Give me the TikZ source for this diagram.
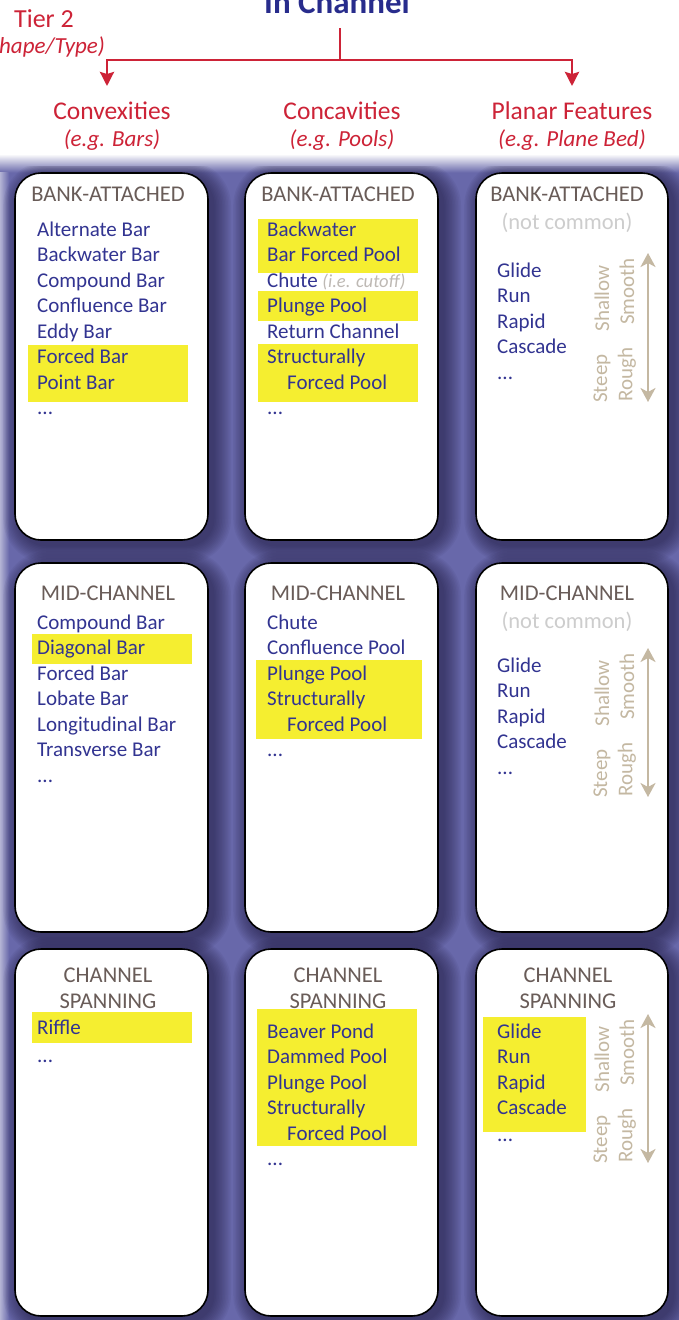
\documentclass[tikz,border=0pt]{standalone}
\usepackage{fontspec}
\setmainfont{Carlito}
\usetikzlibrary{arrows.meta}

\definecolor{bgc}{RGB}{104,104,170}
\definecolor{shadowc}{RGB}{28,22,58}
\definecolor{itemc}{RGB}{50,52,145}
\definecolor{hdrc}{RGB}{105,92,88}
\definecolor{hlc}{RGB}{245,238,48}
\definecolor{redc}{RGB}{205,35,55}
\definecolor{tanc}{RGB}{196,184,162}
\definecolor{ncmc}{RGB}{205,205,205}
\definecolor{cutc}{RGB}{190,185,180}
\definecolor{titlec}{RGB}{40,44,140}

\begin{document}
\begin{tikzpicture}[x=1pt,y=-1pt,
  card/.style={rectangle, draw=black, line width=1.6pt, fill=white,
    rounded corners=26pt, inner sep=0pt, minimum width=193pt},
  itm/.style={anchor=base west, inner sep=0pt, text=itemc,
    font=\fontsize{21}{25}\selectfont},
  hdr/.style={anchor=base, inner sep=0pt, text=hdrc,
    font=\fontsize{22.5}{26}\selectfont},
  ncm/.style={anchor=base, inner sep=0pt, text=ncmc,
    font=\fontsize{22.5}{26}\selectfont},
  rot/.style={rotate=90, inner sep=0pt, text=tanc,
    font=\fontsize{21}{25}\selectfont},
  colh/.style={anchor=base, inner sep=0pt, text=redc,
    font=\fontsize{25.5}{30}\selectfont},
  colsub/.style={anchor=base, inner sep=0pt, text=redc,
    font=\fontsize{23}{27}\selectfont\itshape},
  hl/.style={fill=hlc},
  redline/.style={draw=redc, line width=2.6pt},
  redtip/.style={-{Stealth[length=14pt,width=14pt,inset=2pt]}},
  tanarrow/.style={draw=tanc, line width=2.2pt,
    {Stealth[length=14pt,width=15pt,inset=4pt]}-{Stealth[length=14pt,width=15pt,inset=4pt]}}
]
\useasboundingbox (0,0) rectangle (679,1320);

% page background and the blue panel behind the cards
\fill[white] (0,0) rectangle (679,1320);
\fill[bgc] (0,172) rectangle (679,1320);
\shade[top color=white, bottom color=bgc] (0,154) rectangle (679,172.5);
\shade[left color=bgc!50!white, right color=bgc] (0,172) rectangle (9,1320);

% soft shadows under the cards, kept inside the blue panel
\begin{scope}
\clip (0,166) rectangle (679,1320);
\foreach \xa/\xb in {15/208,245/438,476/668}{
  \foreach \ya/\yb in {173/540,563/932,949/1316}{
    \foreach \k in {1,...,12}{
      \pgfmathsetmacro\rr{26+1.5*\k}
      \fill[shadowc, opacity=0.055, rounded corners=\rr pt]
        (\xa-1.4*\k+5, \ya-1.4*\k+5) rectangle (\xb+1.5*\k+5, \yb+1.5*\k+5);
    }
  }
}
\end{scope}

% title and tier labels
\node[anchor=base, inner sep=0pt, text=titlec, font=\fontsize{33}{38}\selectfont\bfseries]
  (title) at (337,13) {In Channel};
\node[anchor=base, inner sep=0pt, text=redc, font=\fontsize{26}{30}\selectfont]
  (tier) at (44,27) {Tier 2};
\node[anchor=base east, inner sep=0pt, text=redc, font=\fontsize{23}{27}\selectfont\itshape]
  (tiersub) at (105,53) {hape/Type)};

% branching connector
\coordinate (stem) at (340,28);
\coordinate (fork) at (340,60);
\coordinate (tipL) at (107,86);
\coordinate (tipR) at (572,86);
\draw[redline] (stem) -- (fork);
\draw[redline, redtip] (fork) -| (tipL);
\draw[redline, redtip] (fork) -| (tipR);

% column headings
\node[colh] (hconvex) at (112,119) {Convexities};
\node[colsub] (sconvex) at (112,146) {(e.g. Bars)};
\node[colh] (hconcav) at (342,119) {Concavities};
\node[colsub] (sconcav) at (342,146) {(e.g. Pools)};
\node[colh] (hplanar) at (572,119) {Planar Features};
\node[colsub] (splanar) at (572,146) {(e.g. Plane Bed)};

% cards
\node[card, minimum height=367pt] (c11) at (111.5,356.5) {};
\node[card, minimum height=367pt] (c12) at (341.5,356.5) {};
\node[card, minimum height=367pt, minimum width=192pt] (c13) at (572,356.5) {};
\node[card, minimum height=369pt] (c21) at (111.5,747.5) {};
\node[card, minimum height=369pt] (c22) at (341.5,747.5) {};
\node[card, minimum height=369pt, minimum width=192pt] (c23) at (572,747.5) {};
\node[card, minimum height=367pt] (c31) at (111.5,1132.5) {};
\node[card, minimum height=367pt] (c32) at (341.5,1132.5) {};
\node[card, minimum height=367pt, minimum width=192pt] (c33) at (572,1132.5) {};

% highlighted entries
\fill[hl] (28,345) rectangle (188,402);
\fill[hl] (258,219) rectangle (418,273);
\fill[hl] (258,291) rectangle (418,321);
\fill[hl] (258,344) rectangle (418,402);
\fill[hl] (32,634) rectangle (192,664);
\fill[hl] (256,660) rectangle (422,739);
\fill[hl] (32,1012) rectangle (192,1043);
\fill[hl] (257,1009) rectangle (417,1146);
\fill[hl] (483,1017) rectangle (586,1132);

% ---- row 1: bank-attached ----
\node[hdr] (h11) at (108,201) {BANK-ATTACHED};
\foreach \t [count=\i from 0] in {Alternate Bar, Backwater Bar, Compound Bar,
    Confluence Bar, Eddy Bar, Forced Bar, Point Bar}
  \node[itm, name=i11-\i] at (37,236+25.5*\i) {\t};
\node[itm] (d11) at (37,414.5) {...};

\node[hdr] (h12) at (338,201) {BANK-ATTACHED};
\foreach \t [count=\i from 0] in {Backwater, Bar Forced Pool,
    {Chute {\fontsize{18.5}{21}\selectfont\itshape\color{cutc}(i.e. cutoff)}},
    Plunge Pool, Return Channel, Structurally, {\hspace*{20pt}Forced Pool}}
  \node[itm, name=i12-\i] at (267,236+25.5*\i) {\t};
\node[itm] (d12) at (267,414.5) {...};

\node[hdr] (h13) at (567,201) {BANK-ATTACHED};
\node[ncm] (n13) at (567,229) {(not common)};
\foreach \t [count=\i from 0] in {Glide, Run, Rapid, Cascade}
  \node[itm, name=i13-\i] at (497,277+25.5*\i) {\t};
\node[itm] (d13) at (497,379) {...};
\node[rot, anchor=east] (sh13) at (602,265) {Shallow};
\node[rot, anchor=west] (st13) at (602,403) {Steep};
\node[rot, anchor=east] (sm13) at (627,258) {Smooth};
\node[rot, anchor=west] (ro13) at (627,402) {Rough};
\coordinate (a13t) at (648,253);
\coordinate (a13b) at (648,402);
\draw[tanarrow] (a13b) -- (a13t);

% ---- row 2: mid-channel ----
\node[hdr] (h21) at (108,600) {MID-CHANNEL};
\foreach \t [count=\i from 0] in {Compound Bar, Diagonal Bar, Forced Bar,
    Lobate Bar, Longitudinal Bar, Transverse Bar}
  \node[itm, name=i21-\i] at (37,629+25.5*\i) {\t};
\node[itm] (d21) at (37,782) {...};

\node[hdr] (h22) at (338,600) {MID-CHANNEL};
\foreach \t [count=\i from 0] in {Chute, Confluence Pool, Plunge Pool,
    Structurally, {\hspace*{20pt}Forced Pool}}
  \node[itm, name=i22-\i] at (267,629+25.5*\i) {\t};
\node[itm] (d22) at (267,756.5) {...};

\node[hdr] (h23) at (567,600) {MID-CHANNEL};
\node[ncm] (n23) at (567,628) {(not common)};
\foreach \t [count=\i from 0] in {Glide, Run, Rapid, Cascade}
  \node[itm, name=i23-\i] at (497,672+25.5*\i) {\t};
\node[itm] (d23) at (497,774) {...};
\node[rot, anchor=east] (sh23) at (602,660) {Shallow};
\node[rot, anchor=west] (st23) at (602,798) {Steep};
\node[rot, anchor=east] (sm23) at (627,653) {Smooth};
\node[rot, anchor=west] (ro23) at (627,797) {Rough};
\coordinate (a23t) at (648,648);
\coordinate (a23b) at (648,797);
\draw[tanarrow] (a23b) -- (a23t);

% ---- row 3: channel spanning ----
\node[hdr] (h31a) at (108,982) {CHANNEL};
\node[hdr] (h31b) at (108,1008) {SPANNING};
\node[itm] (i31-0) at (37,1034) {Riffle};
\node[itm] (d31) at (37,1062) {...};

\node[hdr] (h32a) at (338,982) {CHANNEL};
\node[hdr] (h32b) at (338,1008) {SPANNING};
\foreach \t [count=\i from 0] in {Beaver Pond, Dammed Pool, Plunge Pool,
    Structurally, {\hspace*{20pt}Forced Pool}}
  \node[itm, name=i32-\i] at (267,1038+25.5*\i) {\t};
\node[itm] (d32) at (267,1165) {...};

\node[hdr] (h33a) at (568,982) {CHANNEL};
\node[hdr] (h33b) at (568,1008) {SPANNING};
\foreach \t [count=\i from 0] in {Glide, Run, Rapid, Cascade}
  \node[itm, name=i33-\i] at (497,1038+25.5*\i) {\t};
\node[itm] (d33) at (497,1141) {...};
\node[rot, anchor=east] (sh33) at (602,1026) {Shallow};
\node[rot, anchor=west] (st33) at (602,1164) {Steep};
\node[rot, anchor=east] (sm33) at (627,1019) {Smooth};
\node[rot, anchor=west] (ro33) at (627,1163) {Rough};
\coordinate (a33t) at (648,1014);
\coordinate (a33b) at (648,1163);
\draw[tanarrow] (a33b) -- (a33t);

\end{tikzpicture}
\end{document}
